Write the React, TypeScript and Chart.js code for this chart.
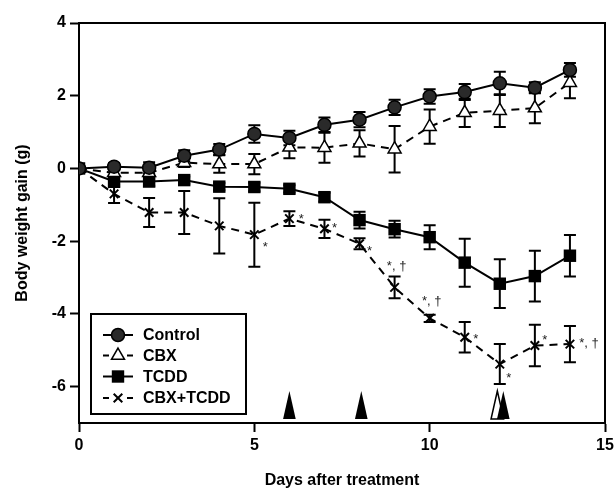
import React, { useEffect, useRef } from 'react';
import { Chart, registerables } from 'chart.js';

Chart.register(...registerables);

// ---------- data ----------
const days = [0, 1, 2, 3, 4, 5, 6, 7, 8, 9, 10, 11, 12, 13, 14];

const controlMean = [0, 0.05, 0.02, 0.35, 0.52, 0.95, 0.84, 1.2, 1.34, 1.68, 1.98, 2.1, 2.34, 2.22, 2.71];
const controlErr = [0, 0.1, 0.15, 0.15, 0.15, 0.24, 0.2, 0.2, 0.21, 0.21, 0.2, 0.22, 0.32, 0.15, 0.19];

const cbxMean = [0, -0.12, -0.12, 0.16, 0.12, 0.12, 0.58, 0.57, 0.69, 0.53, 1.15, 1.53, 1.59, 1.66, 2.36];
const cbxErr = [0, 0.08, 0.08, 0.12, 0.24, 0.28, 0.3, 0.41, 0.36, 0.64, 0.47, 0.39, 0.45, 0.42, 0.43];

const tcddMean = [0, -0.36, -0.36, -0.32, -0.5, -0.51, -0.56, -0.79, -1.42, -1.67, -1.89, -2.59, -3.17, -2.96, -2.4];
const tcddErr = [0, 0.15, 0.12, 0.1, 0.1, 0.12, 0.1, 0.12, 0.23, 0.23, 0.33, 0.66, 0.67, 0.7, 0.57];

const comboMean = [0, -0.7, -1.21, -1.21, -1.58, -1.82, -1.38, -1.66, -2.07, -3.27, -4.12, -4.64, -5.38, -4.87, -4.83];
const comboErr = [0, 0.25, 0.4, 0.59, 0.76, 0.88, 0.2, 0.25, 0.15, 0.3, 0.1, 0.42, 0.55, 0.57, 0.5];

const seriesNames = ['Control', 'CBX', 'TCDD', 'CBX+TCDD'];

// significance marks on CBX+TCDD
const sigDays = [5, 6, 7, 8, 9, 10, 11, 12, 13, 14];
const sigLabels = ['*', '*', '*', '*', '*, †', '*, †', '*', '*', '*', '*, †'];

// treatment arrowheads (days)
const arrowDays = [6, 8.05, 12.1];
const openArrowDays = [11.93];

const xTicks = [0, 5, 10, 15];
const yTicks = [-6, -4, -2, 0, 2, 4];

const xTitle = 'Days after treatment';
const yTitle = 'Body weight gain (g)';

// ---------- styling (not data) ----------
const FONT = '"Liberation Sans", Arial, Helvetica, sans-serif';
const sigOffsets: [number, number][] = [
  [11, 10], [12, -2], [10, -3], [10, 5], [2, -24], [2, -20], [11, -1], [9, 11], [10, -8], [19, -4],
];

type Marker = 'circle' | 'triangle' | 'rect' | 'crossRot';
const markers: Marker[] = ['circle', 'triangle', 'rect', 'crossRot'];
const dashed = [false, true, false, true];

function drawMarker(ctx: CanvasRenderingContext2D, kind: Marker, x: number, y: number) {
  ctx.save();
  ctx.setLineDash([]);
  ctx.strokeStyle = '#000';
  ctx.lineWidth = 1.5;
  ctx.beginPath();
  if (kind === 'circle') {
    ctx.arc(x, y, 6.5, 0, Math.PI * 2);
    ctx.fillStyle = '#2a2a2a';
    ctx.fill();
    ctx.stroke();
  } else if (kind === 'triangle') {
    const r = 7.5;
    ctx.moveTo(x, y - r);
    ctx.lineTo(x + r * Math.sin((2 * Math.PI) / 3), y - r * Math.cos((2 * Math.PI) / 3));
    ctx.lineTo(x + r * Math.sin((4 * Math.PI) / 3), y - r * Math.cos((4 * Math.PI) / 3));
    ctx.closePath();
    ctx.fillStyle = '#fff';
    ctx.fill();
    ctx.stroke();
  } else if (kind === 'rect') {
    ctx.rect(x - 6.2, y - 6.2, 12.4, 12.4);
    ctx.fillStyle = '#000';
    ctx.fill();
  } else {
    const s = 4.3;
    ctx.lineWidth = 2;
    ctx.moveTo(x - s, y - s);
    ctx.lineTo(x + s, y + s);
    ctx.moveTo(x + s, y - s);
    ctx.lineTo(x - s, y + s);
    ctx.stroke();
  }
  ctx.restore();
}

const errorBarPlugin = {
  id: 'errorBars',
  beforeDatasetsDraw(chart: any) {
    const { ctx, scales } = chart;
    const xs = scales.x;
    const ys = scales.y;
    const all = [
      [controlMean, controlErr],
      [cbxMean, cbxErr],
      [tcddMean, tcddErr],
      [comboMean, comboErr],
    ];
    ctx.save();
    ctx.strokeStyle = '#000';
    ctx.lineWidth = 2;
    ctx.setLineDash([]);
    all.forEach(([m, e]) => {
      days.forEach((d, i) => {
        if (!e[i]) return;
        const x = xs.getPixelForValue(d);
        const yt = ys.getPixelForValue(m[i] + e[i]);
        const yb = ys.getPixelForValue(m[i] - e[i]);
        ctx.beginPath();
        ctx.moveTo(x, yt);
        ctx.lineTo(x, yb);
        ctx.moveTo(x - 6, yt);
        ctx.lineTo(x + 6, yt);
        ctx.moveTo(x - 6, yb);
        ctx.lineTo(x + 6, yb);
        ctx.stroke();
      });
    });
    ctx.restore();
  },
};

const decorPlugin = {
  id: 'decor',
  afterDraw(chart: any) {
    const { ctx, scales, chartArea } = chart;
    const xs = scales.x;
    const ys = scales.y;
    ctx.save();
    // frame top & right
    ctx.strokeStyle = '#000';
    ctx.lineWidth = 2;
    ctx.beginPath();
    ctx.moveTo(chartArea.left, chartArea.top);
    ctx.lineTo(chartArea.right, chartArea.top);
    ctx.lineTo(chartArea.right, chartArea.bottom);
    ctx.stroke();

    // significance marks
    ctx.fillStyle = '#222';
    ctx.font = `13px ${FONT}`;
    ctx.textAlign = 'center';
    ctx.textBaseline = 'middle';
    sigDays.forEach((d, k) => {
      const i = days.indexOf(d);
      const x = xs.getPixelForValue(d) + sigOffsets[k][0];
      const y = ys.getPixelForValue(comboMean[i]) + sigOffsets[k][1];
      ctx.fillText(sigLabels[k], x, y + 3);
    });

    // arrowheads
    const baseY = chartArea.bottom - 4;
    const h = 28;
    const hw = 6.3;
    openArrowDays.forEach((d) => {
      const x = xs.getPixelForValue(d);
      ctx.beginPath();
      ctx.moveTo(x, baseY - h);
      ctx.lineTo(x + hw, baseY);
      ctx.lineTo(x - hw, baseY);
      ctx.closePath();
      ctx.fillStyle = '#fff';
      ctx.fill();
      ctx.lineWidth = 1.5;
      ctx.stroke();
    });
    arrowDays.forEach((d) => {
      const x = xs.getPixelForValue(d);
      ctx.beginPath();
      ctx.moveTo(x, baseY - h);
      ctx.lineTo(x + hw, baseY);
      ctx.lineTo(x - hw, baseY);
      ctx.closePath();
      ctx.fillStyle = '#000';
      ctx.fill();
    });

    // legend box
    const bx = chartArea.left + 12;
    const by = 314;
    const bw = 155;
    const bh = 100;
    ctx.fillStyle = '#fff';
    ctx.fillRect(bx, by, bw, bh);
    ctx.lineWidth = 2;
    ctx.strokeStyle = '#000';
    ctx.strokeRect(bx, by, bw, bh);
    const rowY = [335, 355.5, 376.5, 398];
    seriesNames.forEach((name, k) => {
      const y = rowY[k];
      const x0 = bx + 12;
      const x1 = bx + 42;
      const mx = (x0 + x1) / 2;
      ctx.lineWidth = 2;
      ctx.beginPath();
      if (dashed[k]) {
        ctx.moveTo(x0, y);
        ctx.lineTo(x0 + 6, y);
        ctx.moveTo(x1 - 6, y);
        ctx.lineTo(x1, y);
      } else {
        ctx.moveTo(x0, y);
        ctx.lineTo(x1, y);
      }
      ctx.stroke();
      drawMarker(ctx, markers[k], mx, y);
      ctx.fillStyle = '#000';
      ctx.font = `bold 16px ${FONT}`;
      ctx.textAlign = 'left';
      ctx.textBaseline = 'middle';
      ctx.fillText(name, bx + 52, y + 1);
    });
    ctx.restore();
  },
};

function mkData(vals: number[]) {
  return days.map((d, i) => ({ x: d, y: vals[i] }));
}

export default function App() {
  const ref = useRef<HTMLCanvasElement | null>(null);

  useEffect(() => {
    if (!ref.current) return;
    Chart.defaults.font.family = FONT;
    const common = {
      borderColor: '#000',
      borderWidth: 2,
      pointBorderColor: '#000',
      pointBorderWidth: 1.5,
      fill: false,
      tension: 0,
    };
    const chart = new Chart(ref.current, {
      type: 'line',
      data: {
        datasets: [
          {
            ...common,
            label: seriesNames[0],
            data: mkData(controlMean),
            pointStyle: 'circle',
            pointRadius: 6.5,
            pointBackgroundColor: '#2a2a2a',
          },
          {
            ...common,
            label: seriesNames[1],
            data: mkData(cbxMean),
            borderDash: [8, 6],
            pointStyle: 'triangle',
            pointRadius: 7.5,
            pointBackgroundColor: '#fff',
          },
          {
            ...common,
            label: seriesNames[2],
            data: mkData(tcddMean),
            pointStyle: 'rect',
            pointRadius: 8.8,
            pointBorderWidth: 0,
            pointBackgroundColor: '#000',
          },
          {
            ...common,
            label: seriesNames[3],
            data: mkData(comboMean),
            borderDash: [8, 6],
            pointStyle: 'crossRot',
            pointRadius: 6,
            pointBorderWidth: 2,
            pointBackgroundColor: '#000',
          },
        ],
      },
      options: {
        animation: false,
        responsive: false,
        devicePixelRatio: 1,
        layout: { padding: { top: 23, right: 8, left: 0, bottom: 0 } },
        plugins: {
          legend: { display: false },
          tooltip: { enabled: false },
          title: { display: false },
        },
        scales: {
          x: {
            type: 'linear',
            min: 0,
            max: 15,
            afterBuildTicks: (s: any) => {
              s.ticks = xTicks.map((v) => ({ value: v }));
            },
            afterFit: (s: any) => {
              s.height = 65;
              s.paddingLeft = 0;
              s.paddingRight = 0;
            },
            grid: {
              display: true,
              drawOnChartArea: false,
              drawTicks: true,
              tickLength: 9,
              tickWidth: 2,
              tickColor: '#000',
            },
            border: { display: true, color: '#000', width: 2 },
            ticks: {
              color: '#000',
              padding: 4,
              maxRotation: 0,
              font: { size: 16, weight: 'bold', family: FONT },
            },
            title: {
              display: true,
              text: xTitle,
              color: '#000',
              font: { size: 16, weight: 'bold', family: FONT, lineHeight: 1 },
              padding: { top: 0, bottom: -1 },
            },
          },
          y: {
            type: 'linear',
            min: -7,
            max: 4,
            afterBuildTicks: (s: any) => {
              s.ticks = yTicks.map((v) => ({ value: v }));
            },
            afterFit: (s: any) => {
              s.width = 79;
              s.paddingTop = 0;
              s.paddingBottom = 0;
            },
            grid: {
              display: true,
              drawOnChartArea: false,
              drawTicks: true,
              tickLength: 9,
              tickWidth: 2,
              tickColor: '#000',
            },
            border: { display: true, color: '#000', width: 2 },
            ticks: {
              color: '#000',
              padding: 4,
              font: { size: 16, weight: 'bold', family: FONT },
            },
            title: {
              display: true,
              text: yTitle,
              color: '#000',
              font: { size: 16, weight: 'bold', family: FONT, lineHeight: 1 },
              padding: { top: 15, bottom: 0 },
            },
          },
        },
      },
      plugins: [errorBarPlugin, decorPlugin],
    } as any);
    return () => chart.destroy();
  }, []);

  return (
    <div style={{ position: 'fixed', left: 0, top: 0, width: 614, height: 488, background: '#fff' }}>
      <canvas ref={ref} width={614} height={488} style={{ display: 'block', width: 614, height: 488 }} />
    </div>
  );
}
